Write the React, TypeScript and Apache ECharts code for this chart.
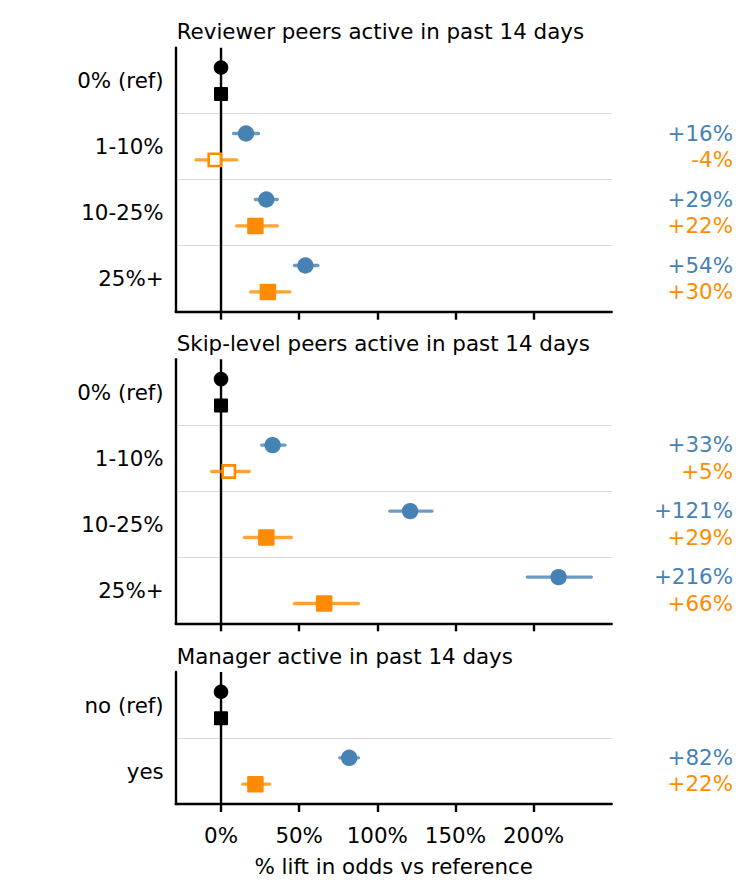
import React, { useEffect, useRef } from 'react';
import * as echarts from 'echarts';

const FONT = '"DejaVu Sans", sans-serif';
const FS = 21.4;
const BLUE = '#4682b4';
const ORANGE = '#ff8c00';

const xTicks = [0, 50, 100, 150, 200];
const xMin = -29;
const xMax = 250;
const axisTitle = '% lift in odds vs reference';

const panelTitles = [
  'Reviewer peers active in past 14 days',
  'Skip-level peers active in past 14 days',
  'Manager active in past 14 days',
];

// Panel 1: reviewer peers
const reviewerCats = ['0% (ref)', '1-10%', '10-25%', '25%+'];
const reviewerBlue = [0, 16, 29, 54];
const reviewerBlueLo = [null, 8, 22, 47];
const reviewerBlueHi = [null, 24, 36, 62];
const reviewerOrange = [0, -4, 22, 30];
const reviewerOrangeLo = [null, -16, 10, 19];
const reviewerOrangeHi = [null, 10, 36, 44];

// Panel 2: skip-level peers
const skipCats = ['0% (ref)', '1-10%', '10-25%', '25%+'];
const skipBlue = [0, 33, 121, 216];
const skipBlueLo = [null, 26, 108, 196];
const skipBlueHi = [null, 41, 135, 237];
const skipOrange = [0, 5, 29, 66];
const skipOrangeLo = [null, -6, 15, 47];
const skipOrangeHi = [null, 18, 45, 88];

// Panel 3: manager
const managerCats = ['no (ref)', 'yes'];
const managerBlue = [0, 82];
const managerBlueLo = [null, 76];
const managerBlueHi = [null, 88];
const managerOrange = [0, 22];
const managerOrangeLo = [null, 14];
const managerOrangeHi = [null, 31];

const panels = [
  { cats: reviewerCats, blue: [reviewerBlue, reviewerBlueLo, reviewerBlueHi], orange: [reviewerOrange, reviewerOrangeLo, reviewerOrangeHi] },
  { cats: skipCats, blue: [skipBlue, skipBlueLo, skipBlueHi], orange: [skipOrange, skipOrangeLo, skipOrangeHi] },
  { cats: managerCats, blue: [managerBlue, managerBlueLo, managerBlueHi], orange: [managerOrange, managerOrangeLo, managerOrangeHi] },
];

const GRID_LEFT = 175.7;
const GRID_WIDTH = 436;
const ROW_H = 66;
const gridTops = [47.7, 359.3, 672];
const ANNOT_OFFSET = 121.3;

function buildData(cats: string[], arrs: (number | null)[][]) {
  const [est, lo, hi] = arrs;
  return cats.map((c, i) => [est[i], lo[i] == null ? '-' : lo[i], hi[i] == null ? '-' : hi[i], c]);
}

function makeRender(color: string, shape: 'circle' | 'square', offset: number) {
  return (params: any, api: any) => {
    const est = api.value(0);
    const lo = api.value(1);
    const hi = api.value(2);
    const cat = api.value(3);
    const band = api.size([0, 1])[1];
    const p = api.coord([est, cat]);
    const y = p[1] + offset * band;
    const isRef = params.dataIndex === 0;
    const children: any[] = [];
    if (!isRef && !isNaN(lo) && !isNaN(hi)) {
      const a = api.coord([lo, cat]);
      const b = api.coord([hi, cat]);
      children.push({
        type: 'line',
        shape: { x1: a[0], y1: y, x2: b[0], y2: y },
        style: { stroke: color, lineWidth: 3.3, opacity: 0.8, lineCap: 'round' },
      });
    }
    const c = isRef ? '#000' : color;
    const open = !isRef && lo < 0 && hi > 0;
    if (shape === 'circle') {
      const r = isRef ? 7.3 : 8.2;
      children.push({
        type: 'circle',
        shape: { cx: p[0], cy: y, r: open ? r - 1.2 : r },
        style: { fill: open ? '#fff' : c, stroke: c, lineWidth: open ? 2.5 : 0 },
      });
    } else {
      if (open) {
        const s = 12.2;
        children.push({
          type: 'rect',
          shape: { x: p[0] - s / 2, y: y - s / 2, width: s, height: s },
          style: { fill: '#fff', stroke: c, lineWidth: 2.6 },
        });
      } else {
        const s = isRef ? 14 : 16.5;
        children.push({
          type: 'rect',
          shape: { x: p[0] - s / 2, y: y - s / 2, width: s, height: s, r: 1 },
          style: { fill: c },
        });
      }
    }
    if (!isRef) {
      const txt = (est >= 0 ? '+' : '') + est + '%';
      children.push({
        type: 'text',
        x: params.coordSys.x + params.coordSys.width + ANNOT_OFFSET,
        y: y - 0.5,
        style: {
          text: txt,
          fill: color,
          fontSize: FS,
          fontFamily: FONT,
          align: 'right',
          verticalAlign: 'middle',
        },
      });
    }
    return { type: 'group', children };
  };
}

function zeroRender(params: any, api: any) {
  const x = api.coord([api.value(0), 0])[0];
  const cs = params.coordSys;
  return {
    type: 'line',
    shape: { x1: x, y1: cs.y, x2: x, y2: cs.y + cs.height },
    style: { stroke: '#000', lineWidth: 2.4 },
  };
}

export default function App() {
  const ref = useRef<HTMLDivElement>(null);
  useEffect(() => {
    if (!ref.current) return;
    const chart = echarts.init(ref.current, undefined, { renderer: 'svg' });
    const grid: any[] = [];
    const xAxis: any[] = [];
    const yAxis: any[] = [];
    const series: any[] = [];
    const graphic: any[] = [];
    panels.forEach((pn, i) => {
      const top = gridTops[i];
      const h = pn.cats.length * ROW_H;
      grid.push({ left: GRID_LEFT, top, width: GRID_WIDTH, height: h, containLabel: false });
      const isLast = i === panels.length - 1;
      xAxis.push({
        type: 'value',
        gridIndex: i,
        min: xMin,
        max: xMax,
        axisLine: { show: true, onZero: false, lineStyle: { color: '#000', width: 2.4 } },
        axisTick: { show: true, customValues: xTicks, length: 8, lineStyle: { color: '#000', width: 2.4 } },
        axisLabel: {
          show: isLast,
          customValues: xTicks,
          formatter: '{value}%',
          fontSize: FS,
          fontFamily: FONT,
          color: '#000',
          margin: 31,
          verticalAlign: 'middle',
        },
        splitLine: { show: false },
        name: isLast ? axisTitle : '',
        nameLocation: 'middle',
        nameGap: 62,
        nameTextStyle: { fontSize: FS, fontFamily: FONT, color: '#000', verticalAlign: 'middle' },
      });
      yAxis.push({
        type: 'category',
        gridIndex: i,
        data: pn.cats,
        inverse: true,
        axisLine: { show: true, onZero: false, lineStyle: { color: '#000', width: 2.4 } },
        axisTick: { show: false },
        axisLabel: { fontSize: FS, fontFamily: FONT, color: '#000', margin: 12 },
        splitLine: {
          show: true,
          showMinLine: false,
          showMaxLine: false,
          lineStyle: { color: '#d9d9d9', width: 1.2 },
        },
      });
      series.push({
        type: 'custom',
        xAxisIndex: i,
        yAxisIndex: i,
        z: 1,
        clip: false,
        silent: true,
        encode: { x: 0, y: 1 },
        data: [[0, pn.cats[0]]],
        renderItem: zeroRender,
      });
      series.push({
        type: 'custom',
        xAxisIndex: i,
        yAxisIndex: i,
        z: 3,
        clip: false,
        silent: true,
        encode: { x: [0, 1, 2], y: 3 },
        data: buildData(pn.cats, pn.blue as any),
        renderItem: makeRender(BLUE, 'circle', -0.2),
      });
      series.push({
        type: 'custom',
        xAxisIndex: i,
        yAxisIndex: i,
        z: 3,
        clip: false,
        silent: true,
        encode: { x: [0, 1, 2], y: 3 },
        data: buildData(pn.cats, pn.orange as any),
        renderItem: makeRender(ORANGE, 'square', 0.2),
      });
      graphic.push({
        type: 'text',
        x: GRID_LEFT + 1,
        y: top - 16,
        style: {
          text: panelTitles[i],
          fontSize: FS,
          fontFamily: FONT,
          fill: '#000',
          align: 'left',
          verticalAlign: 'middle',
        },
      });
    });
    chart.setOption({
      animation: false,
      backgroundColor: '#fff',
      grid,
      xAxis,
      yAxis,
      series,
      graphic,
    });
    return () => chart.dispose();
  }, []);
  return (
    <div
      ref={ref}
      style={{ position: 'fixed', left: 0, top: 0, width: 747, height: 896, background: '#fff' }}
    />
  );
}
